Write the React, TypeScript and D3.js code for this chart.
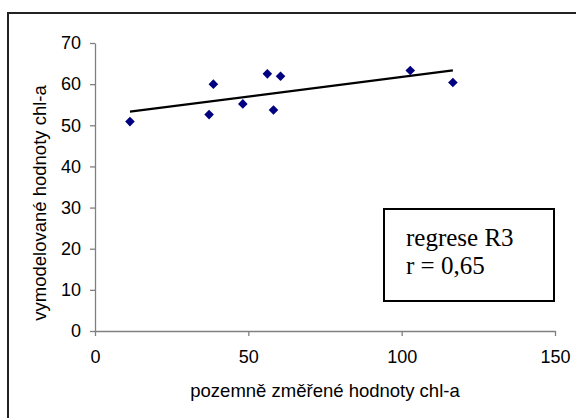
import { useRef, useEffect } from 'react';
import * as d3 from 'd3';

const measured = [11.4, 37.2, 38.6, 48.2, 56.2, 58.2, 60.5, 102.8, 116.7];
const modelled = [50.9, 52.6, 60.0, 55.2, 62.5, 53.7, 61.9, 63.3, 60.4];
const xTicks = [0, 50, 100, 150];
const yTicks = [0, 10, 20, 30, 40, 50, 60, 70];
const legendLines = ['regrese R3', 'r = 0,65'];

const W = 576;
const H = 418;
const PLOT = { left: 95, right: 555, top: 43, bottom: 331 };
const SANS = 'Liberation Sans, Arial, sans-serif';
const SERIF = 'Liberation Serif, Times New Roman, serif';

function linearFit(xs: number[], ys: number[]) {
  const mx = d3.mean(xs)!;
  const my = d3.mean(ys)!;
  let sxy = 0;
  let sxx = 0;
  xs.forEach((x, i) => {
    sxy += (x - mx) * (ys[i] - my);
    sxx += (x - mx) * (x - mx);
  });
  const slope = sxy / sxx;
  return (x: number) => my + slope * (x - mx);
}

export default function App() {
  const svgRef = useRef<SVGSVGElement>(null);

  useEffect(() => {
    const svg = svgRef.current;
    if (!svg) return;
    const root = d3.select(svg);
    root.selectAll('*').remove();

    const x = d3.scaleLinear().domain([0, 150]).range([PLOT.left, PLOT.right]);
    const y = d3.scaleLinear().domain([0, 70]).range([PLOT.bottom, PLOT.top]);

    // outer chart frame (runs off the right and bottom edges)
    root.append('rect')
      .attr('x', 8).attr('y', 13).attr('width', 600).attr('height', 450)
      .attr('fill', 'white').attr('stroke', '#222').attr('stroke-width', 2);

    // axes
    const xG = root.append('g').attr('transform', `translate(0,${PLOT.bottom})`)
      .call(d3.axisBottom(x).tickValues(xTicks).tickSize(5).tickPadding(14).tickSizeOuter(0));
    const yG = root.append('g').attr('transform', `translate(${PLOT.left},0)`)
      .call(d3.axisLeft(y).tickValues(yTicks).tickSize(5).tickPadding(9).tickSizeOuter(0));
    [xG, yG].forEach(g => {
      g.select('.domain').attr('stroke', '#808080').attr('stroke-width', 1.3);
      g.selectAll('line').attr('stroke', '#808080').attr('stroke-width', 1.3);
      g.selectAll('text').attr('fill', '#000').attr('font-family', SANS).attr('font-size', '18px');
    });

    // trend line
    const fit = linearFit(measured, modelled);
    const [x0, x1] = d3.extent(measured) as [number, number];
    root.append('line')
      .attr('x1', x(x0)).attr('y1', y(fit(x0)))
      .attr('x2', x(x1)).attr('y2', y(fit(x1)))
      .attr('stroke', '#000').attr('stroke-width', 2.2);

    // points
    const diamond = d3.symbol().type(d3.symbolSquare).size(46);
    root.append('g').selectAll('path').data(measured).join('path')
      .attr('d', diamond)
      .attr('transform', (d, i) => `translate(${x(d)},${y(modelled[i])}) rotate(45)`)
      .attr('fill', '#000080');

    // axis titles
    root.append('text')
      .attr('x', (PLOT.left + PLOT.right) / 2).attr('y', 397)
      .attr('text-anchor', 'middle').attr('font-family', SANS).attr('font-size', '18.5px')
      .text('pozemně změřené hodnoty chl-a');
    root.append('text')
      .attr('transform', 'translate(46,203) rotate(-90)')
      .attr('text-anchor', 'middle').attr('font-family', SANS).attr('font-size', '18.5px')
      .text('vymodelované hodnoty chl-a');

    // annotation box
    root.append('rect')
      .attr('x', 384).attr('y', 209).attr('width', 170).attr('height', 92)
      .attr('fill', 'white').attr('stroke', '#000').attr('stroke-width', 2);
    root.append('g').selectAll('text').data(legendLines).join('text')
      .attr('x', 406).attr('y', (d, i) => 246 + i * 28)
      .attr('font-family', SERIF).attr('font-size', '25px').attr('fill', '#000')
      .text(d => d);
  }, []);

  return (
    <svg ref={svgRef} width={W} height={H}
      style={{ position: 'absolute', left: 0, top: 0, display: 'block', background: 'white' }} />
  );
}
